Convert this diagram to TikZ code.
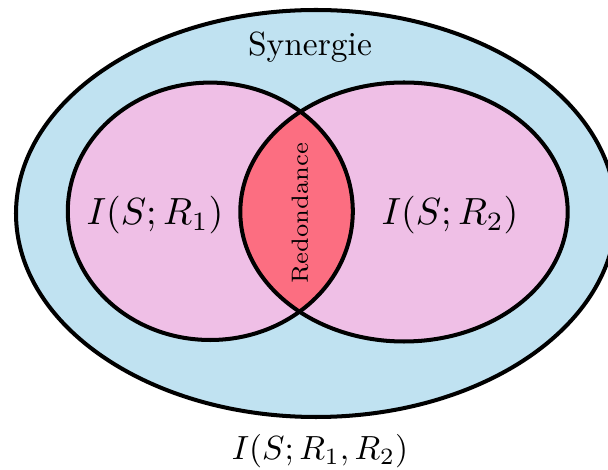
\documentclass[tikz,border=0pt]{standalone}
\usetikzlibrary{calc}
\definecolor{bleuSyn}{RGB}{192,226,241}
\definecolor{roseInfo}{RGB}{239,191,230}
\definecolor{rougeRed}{RGB}{252,110,129}

\begin{document}
\begin{tikzpicture}[x=0.0105cm,y=-0.0105cm]

    % Paramètres
    \pgfmathsetmacro{\Ax}{300}
    \pgfmathsetmacro{\Ay}{203.5}
    \pgfmathsetmacro{\Gx}{142.5}
    \pgfmathsetmacro{\Gy}{128.7}
    \pgfmathsetmacro{\Dx}{163.7}
    \pgfmathsetmacro{\Dy}{129.5}

    \useasboundingbox (0,0) rectangle (608,470);

    % Centres des ellipses
    \coordinate (O) at (316,213.5);
    \coordinate (G) at (210.3,211.3);
    \coordinate (D) at (404,212);

    % Remplissages
    \fill[bleuSyn] (O) ellipse [x radius=\Ax, y radius=\Ay];
    \fill[roseInfo] (G) ellipse [x radius=\Gx, y radius=\Gy];
    \fill[roseInfo] (D) ellipse [x radius=\Dx, y radius=\Dy];
    \begin{scope}
        \clip (G) ellipse [x radius=\Gx, y radius=\Gy];
        \fill[rougeRed] (D) ellipse [x radius=\Dx, y radius=\Dy];
    \end{scope}

    % Contours
    \draw[very thick] (O) ellipse [x radius=\Ax, y radius=\Ay];
    \draw[very thick] (G) ellipse [x radius=\Gx, y radius=\Gy];
    \draw[very thick] (D) ellipse [x radius=\Dx, y radius=\Dy];

    % Étiquettes
    \node (syn) at (310,47) {Synergie};
    \node[scale=1.13] (info1) at (155,215) {$I(S;R_1)$};
    \node[scale=1.13] (info2) at (450,215) {$I(S;R_2)$};
    \node[rotate=90, font=\scriptsize] (red) at (300,213) {Redondance};
    \node (infotot) at (320,451) {$I(S;R_1,R_2)$};

\end{tikzpicture}
\end{document}
